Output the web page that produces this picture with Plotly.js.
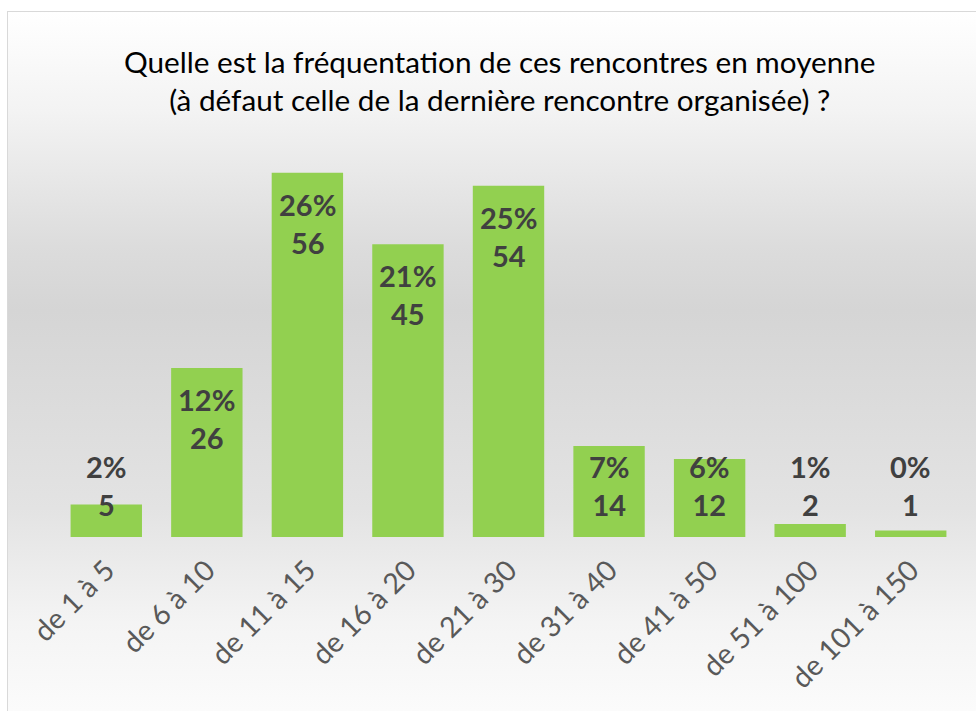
<!DOCTYPE html>
<html>
<head>
<meta charset="utf-8">
<script src="https://cdn.plot.ly/plotly-3.0.1.min.js"></script>
<style>
  html, body { margin: 0; padding: 0; background: #ffffff; width: 976px; height: 711px; overflow: hidden; }
  #frame {
    position: absolute; left: 7px; top: 11px; width: 980px; height: 710px;
    border-top: 1px solid #d9d9d9; border-left: 1px solid #d9d9d9;
    background: linear-gradient(to bottom, #ffffff 0%, #f3f3f3 14%, #dcdcdc 33%, #d5d5d5 42%, #e3e3e3 70%, #f4f4f4 86%, #fcfcfc 100%);
  }
  #chart { position: absolute; left: 0; top: 0; width: 976px; height: 711px; }
</style>
</head>
<body>
<div id="frame"></div>
<div id="chart"></div>
<script>
const categories = ["de 1 à 5", "de 6 à 10", "de 11 à 15", "de 16 à 20", "de 21 à 30", "de 31 à 40", "de 41 à 50", "de 51 à 100", "de 101 à 150"];
const counts = [5, 26, 56, 45, 54, 14, 12, 2, 1];
const percents = ["2%", "12%", "26%", "21%", "25%", "7%", "6%", "1%", "0%"];
const titleText = "Quelle est la fréquentation de ces rencontres en moyenne<br>(à défaut celle de la dernière rencontre organisée) ?";

const W = 976, H = 711;
const margin = {l: 56, r: 15, t: 150, b: 174};
const yMax = 59.5;
const plotH = H - margin.t - margin.b;
const pxPerUnit = plotH / yMax;
const labelFontSize = 29;
const blockH = 78;

const annotations = categories.map((c, i) => {
  const barPx = counts[i] * pxPerUnit;
  const fits = barPx - 14 >= blockH + 16;
  return fits
    ? {x: c, y: counts[i], xref: 'x', yref: 'y', yanchor: 'top', yshift: -12,
       text: '<b>' + percents[i] + '<br>' + counts[i] + '</b>', showarrow: false,
       font: {family: 'Lato, "Open Sans", sans-serif', size: labelFontSize, color: '#404040'}}
    : {x: c, y: 0, xref: 'x', yref: 'y', yanchor: 'bottom', yshift: 13,
       text: '<b>' + percents[i] + '<br>' + counts[i] + '</b>', showarrow: false,
       font: {family: 'Lato, "Open Sans", sans-serif', size: labelFontSize, color: '#404040'}};
});

const trace = {
  type: 'bar', x: categories, y: counts,
  marker: {color: '#92D050', line: {width: 0}},
  hoverinfo: 'none'
};

const layout = {
  width: W, height: H, margin: margin,
  paper_bgcolor: 'rgba(0,0,0,0)', plot_bgcolor: 'rgba(0,0,0,0)',
  bargap: 0.29,
  showlegend: false,
  title: {text: titleText, x: 0.512, xref: 'container', xanchor: 'center',
          y: 0.898, yref: 'container', yanchor: 'middle',
          font: {family: 'Lato, "Open Sans", sans-serif', size: 29.7, color: '#000000'}},
  xaxis: {type: 'category', tickangle: -45, showgrid: false, zeroline: false, showline: false,
          ticks: '', ticklen: 0, ticklabelstandoff: 10,
          tickfont: {family: 'Lato, "Open Sans", sans-serif', size: 28.5, color: '#595959'}},
  yaxis: {range: [0, yMax], visible: false, showgrid: false, zeroline: false},
  annotations: annotations
};

Plotly.newPlot('chart', [trace], layout, {displayModeBar: false, staticPlot: true});
</script>
</body>
</html>
